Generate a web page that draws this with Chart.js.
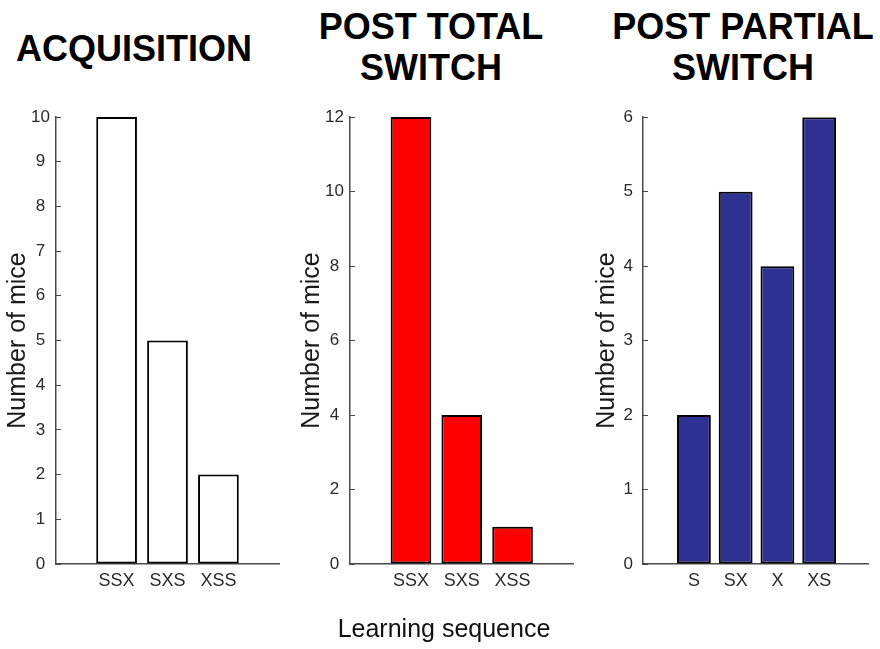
<!DOCTYPE html>
<html>
<head>
<meta charset="utf-8">
<script src="https://cdn.jsdelivr.net/npm/chart.js@4.4.0/dist/chart.umd.min.js"></script>
<style>
body{margin:0;background:#fff;width:880px;height:649px;position:relative;overflow:hidden;font-family:"Liberation Sans",Arial,sans-serif}
.ttl{position:absolute;font-weight:bold;font-size:36px;line-height:41px;text-align:center;color:#000;white-space:nowrap}
canvas{position:absolute;top:95px}
#xlab{position:absolute;left:294px;width:300px;top:614px;text-align:center;font-size:25px;color:#111}
</style>
</head>
<body>
<div class="ttl" style="left:0;width:268px;top:28px">ACQUISITION</div>
<div class="ttl" style="left:281px;width:300px;top:6px">POST TOTAL<br>SWITCH</div>
<div class="ttl" style="left:593px;width:300px;top:6px">POST PARTIAL<br>SWITCH</div>
<canvas id="acq" width="290" height="520" style="left:0"></canvas>
<canvas id="total" width="290" height="520" style="left:290px"></canvas>
<canvas id="partial" width="290" height="523" style="left:590px;top:92px"></canvas>
<div id="xlab">Learning sequence</div>
<script>
// data
var acqLabels = ['SSX', 'SXS', 'XSS'];
var acqValues = [10, 5, 2];
var totalLabels = ['SSX', 'SXS', 'XSS'];
var totalValues = [12, 4, 1];
var partialLabels = ['S', 'SX', 'X', 'XS'];
var partialValues = [2, 5, 4, 6];
// y axis ticks: max and step
var acqTicks = [10, 1];
var totalTicks = [12, 2];
var partialTicks = [6, 1];

var axisColor = '#4a4a4a';
var textColor = '#2b2b2b';

function barPanel(id, labels, values, color, ticks, o) {
  return new Chart(document.getElementById(id), {
    type: 'bar',
    data: {
      datasets: [{
        data: labels.map(function(l, i){ return {x: i + 1, y: values[i]}; }),
        backgroundColor: color,
        borderColor: '#000',
        borderWidth: 2,
        borderSkipped: false,
        barPercentage: o.bar,
        categoryPercentage: 1
      }]
    },
    options: {
      responsive: false,
      animation: false,
      devicePixelRatio: 1,
      layout: {padding: {top: o.padTop, right: o.padRight, left: 0, bottom: 0}},
      plugins: {legend: {display: false}, tooltip: {enabled: false}},
      scales: {
        x: {
          type: 'linear',
          min: o.xMin, max: o.xMax,
          offset: false,
          grid: {display: false, drawTicks: false, offset: false},
          border: {color: axisColor, width: 1.5},
          ticks: {
            stepSize: 1, autoSkip: false, maxRotation: 0, padding: 6,
            color: textColor, font: {size: 18},
            callback: function(v){ return labels[v - 1] || ''; }
          },
          afterFit: function(s){ s.height = 51; }
        },
        y: {
          min: 0, max: ticks[0],
          grid: {drawOnChartArea: false, drawTicks: true, tickLength: -5, color: axisColor, lineWidth: 1},
          border: {color: axisColor, width: 1.5},
          ticks: {stepSize: ticks[1], color: textColor, font: {size: 17}, padding: o.tickPad, crossAlign: 'center'},
          title: {display: true, text: 'Number of mice', color: '#1a1a1a', font: {size: 25}, padding: {top: o.titlePad, bottom: 0}},
          afterFit: function(s){ s.width = o.yWidth; }
        }
      }
    }
  });
}

barPanel('acq', acqLabels, acqValues, '#ffffff', acqTicks,
  {xMin: -0.19, xMax: 4.19, bar: 0.8, padTop: 22, padRight: 11, yWidth: 56, tickPad: 11, titlePad: 3});
barPanel('total', totalLabels, totalValues, '#ff0000', totalTicks,
  {xMin: -0.2, xMax: 4.19, bar: 0.8, padTop: 22, padRight: 7, yWidth: 60, tickPad: 11, titlePad: 7});
// tick padding also pads the top here, so this canvas starts 3px higher
barPanel('partial', partialLabels, partialValues, '#2e3192', partialTicks,
  {xMin: -0.22, xMax: 5.17, bar: 0.81, padTop: 16, padRight: 12, yWidth: 53, tickPad: 15, titlePad: 2});
</script>
</body>
</html>
